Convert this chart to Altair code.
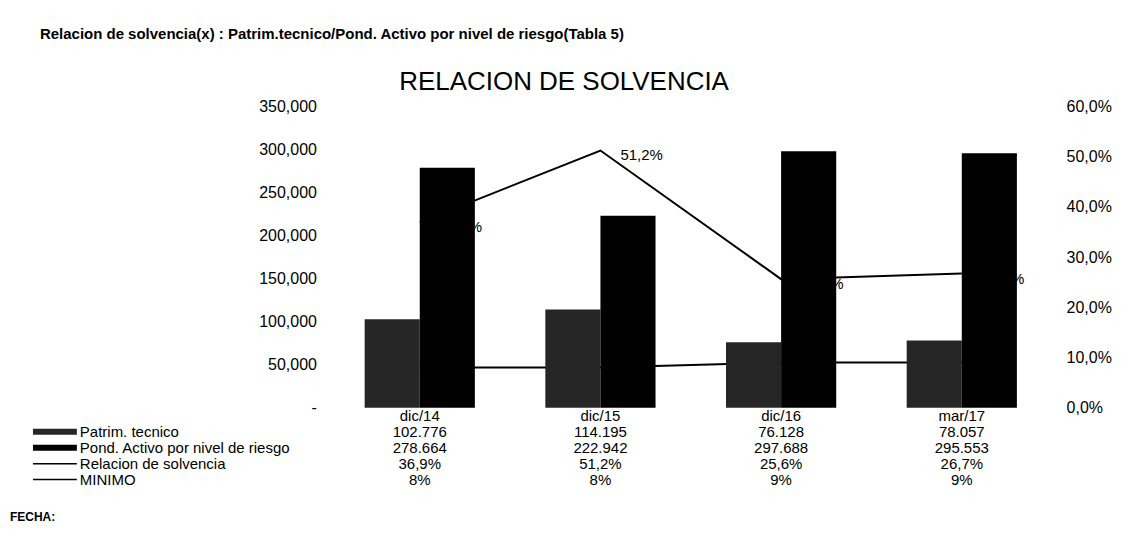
import altair as alt
import pandas as pd

# ---------------- data ----------------
periodos = ["dic/14", "dic/15", "dic/16", "mar/17"]
patrim = [102776, 114195, 76128, 78057]
pond = [278664, 222942, 297688, 295553]
relacion = [36.9, 51.2, 25.6, 26.7]   # %
minimo = [8, 8, 9, 9]                 # %
series_barras = ["Patrim. tecnico", "Pond. Activo por nivel de riesgo"]
series_lineas = ["Relacion de solvencia", "MINIMO"]
left_ticks = [0, 50000, 100000, 150000, 200000, 250000, 300000, 350000]
right_ticks = [0, 0.1, 0.2, 0.3, 0.4, 0.5, 0.6]
titulo = "RELACION DE SOLVENCIA"
encabezado = "Relacion de solvencia(x) : Patrim.tecnico/Pond. Activo por nivel de riesgo(Tabla 5)"
pie = "FECHA:"

FONT = "Liberation Sans"
W, H = 724, 302
ROW0, ROWSTEP = 8, 16

def miles(v):
    return f"{v:,}".replace(",", ".")

def pct(v):
    return f"{v:.1f}%".replace(".", ",")

bars_df = pd.DataFrame({
    "periodo": periodos * 2,
    "serie": [series_barras[0]] * 4 + [series_barras[1]] * 4,
    "valor": patrim + pond,
})
lines_df = pd.DataFrame({
    "periodo": periodos * 2,
    "serie": [series_lineas[0]] * 4 + [series_lineas[1]] * 4,
    "valor": [r / 100 for r in relacion] + [m / 100 for m in minimo],
    "etiqueta": [pct(r) for r in relacion] + [""] * 4,
})

# data table rows under the chart
table_rows = []
for i, p in enumerate(periodos):
    cells = [p, miles(patrim[i]), miles(pond[i]), pct(relacion[i]), f"{minimo[i]}%"]
    for r, c in enumerate(cells):
        table_rows.append({"periodo": p, "fila": r, "texto": c})
table_df = pd.DataFrame(table_rows)

legend_df = pd.DataFrame({
    "serie": series_barras + series_lineas,
    "fila": [1, 2, 3, 4],
    "tipo": ["bar", "bar", "line", "line"],
})

x_enc = alt.X("periodo:N", sort=periodos,
              scale=alt.Scale(paddingInner=0.39, paddingOuter=0.195), axis=None)

# ---------------- lines (right axis) ----------------
y_right = alt.Y("valor:Q",
                scale=alt.Scale(domain=[0, 0.6], nice=False),
                axis=alt.Axis(orient="right", values=right_ticks,
                              labelExpr="replace(format(datum.value, '.1%'), '.', ',')",
                              domain=False, ticks=False, tickSize=0, grid=False, title=None,
                              labelFont=FONT, labelFontSize=16, labelColor="black",
                              labelPadding=14))

lineas = alt.Chart(lines_df).mark_line(color="black", strokeWidth=2).encode(
    x=x_enc, y=y_right, detail="serie:N")
etiquetas = alt.Chart(lines_df).transform_filter(
    alt.datum.etiqueta != "").mark_text(
    align="left", baseline="middle", dx=20, dy=5, font=FONT, fontSize=15, color="black"
).encode(x=x_enc, y=y_right, text="etiqueta:N")
capa_lineas = alt.layer(lineas, etiquetas)

# ---------------- bars (left axis) ----------------
y_left = alt.Y("valor:Q",
               scale=alt.Scale(domain=[0, 350000], nice=False),
               axis=alt.Axis(orient="left", values=left_ticks,
                             labelExpr="datum.value == 0 ? '-' : format(datum.value, ',d')",
                             domain=False, ticks=False, tickSize=0, grid=False, title=None,
                             labelFont=FONT, labelFontSize=16, labelColor="black",
                             labelPadding=13))
colores = alt.Scale(domain=series_barras, range=["#262626", "#000000"])
barras = alt.Chart(bars_df).mark_bar().encode(
    x=x_enc,
    xOffset=alt.XOffset("serie:N", sort=series_barras),
    y=y_left,
    color=alt.Color("serie:N", sort=series_barras, scale=colores, legend=None),
)

# ---------------- data table ----------------
tabla = alt.Chart(table_df).transform_calculate(
    ypix=f"{H + ROW0} + datum.fila * {ROWSTEP}"
).mark_text(baseline="middle", align="center", font=FONT, fontSize=15, color="black").encode(
    x=x_enc,
    y=alt.Y("ypix:Q", scale=None, axis=None),
    text="texto:N",
)

# ---------------- legend ----------------
leg_base = alt.Chart(legend_df).transform_calculate(
    ypix=f"{H + ROW0} + datum.fila * {ROWSTEP}",
    ya=f"{H + ROW0} + datum.fila * {ROWSTEP} - 3",
    yb=f"{H + ROW0} + datum.fila * {ROWSTEP} + 3",
)
leg_text = leg_base.mark_text(align="left", baseline="middle", font=FONT, fontSize=15,
                              color="black").encode(
    x=alt.value(-250), y=alt.Y("ypix:Q", scale=None, axis=None), text="serie:N")
leg_rect = leg_base.transform_filter(alt.datum.tipo == "bar").mark_rect().encode(
    x=alt.value(-297), x2=alt.value(-253),
    y=alt.Y("ya:Q", scale=None, axis=None), y2="yb:Q",
    color=alt.Color("serie:N", sort=series_barras, scale=colores, legend=None),
)
leg_rule = leg_base.transform_filter(alt.datum.tipo == "line").mark_rule(
    color="black", strokeWidth=1.5).encode(
    x=alt.value(-297), x2=alt.value(-253), y=alt.Y("ypix:Q", scale=None, axis=None))

# ---------------- free texts ----------------
titulo_mark = alt.Chart(pd.DataFrame({"t": [titulo]})).mark_text(
    align="left", baseline="middle", font=FONT, fontSize=26, color="black"
).encode(x=alt.value(70), y=alt.value(-24), text="t:N")
header = alt.Chart(pd.DataFrame({"t": [encabezado]})).mark_text(
    align="left", baseline="middle", font=FONT, fontSize=15, fontWeight="bold", color="black"
).encode(x=alt.value(-290), y=alt.value(-72), text="t:N")
fecha = alt.Chart(pd.DataFrame({"t": [pie]})).mark_text(
    align="left", baseline="middle", font=FONT, fontSize=12, fontWeight="bold", color="black"
).encode(x=alt.value(-320), y=alt.value(411), text="t:N")

chart = alt.layer(
    capa_lineas, barras, tabla, leg_rect, leg_rule, leg_text, titulo_mark, header, fecha
).resolve_scale(
    y="independent", color="independent"
).properties(
    width=W, height=H,
    background="white",
    autosize=alt.AutoSizeParams(type="none"),
    padding={"left": 322, "top": 98, "right": 70, "bottom": 122},
).configure_view(strokeOpacity=0, strokeWidth=0)

chart.save("out.html", embed_options={"renderer": "svg", "actions": False})
